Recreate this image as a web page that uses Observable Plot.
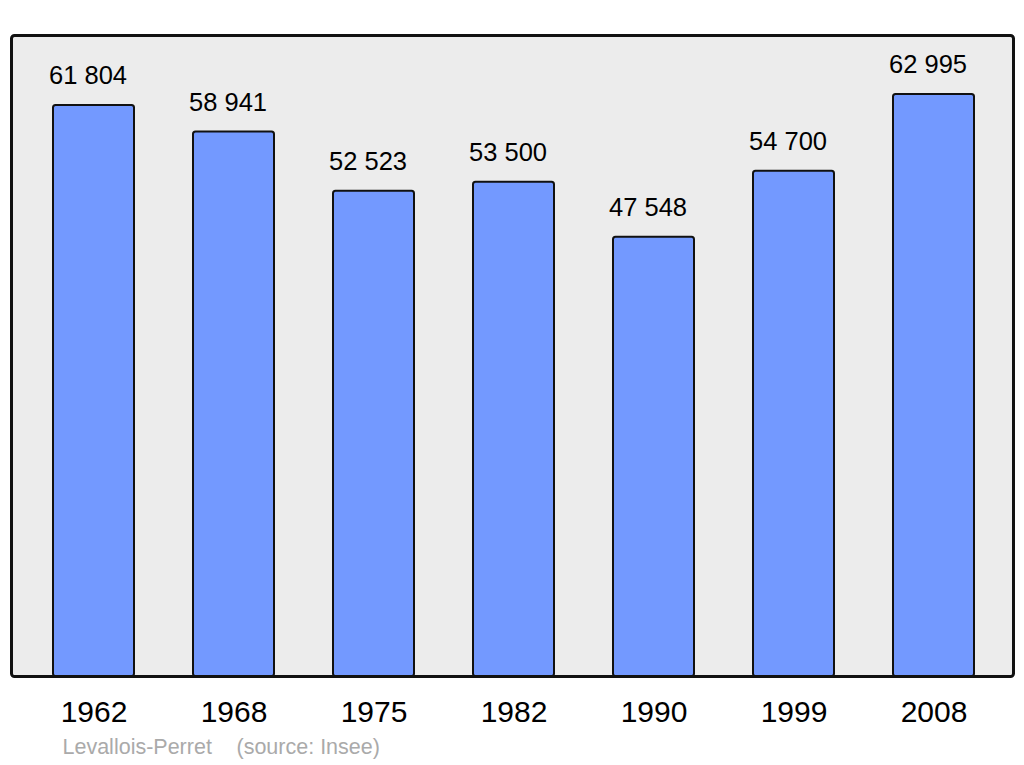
<!DOCTYPE html>
<html>
<head>
<meta charset="utf-8">
<script src="https://cdn.jsdelivr.net/npm/d3@7"></script>
<script src="https://cdn.jsdelivr.net/npm/@observablehq/plot@0.6"></script>
<style>
  html, body { margin: 0; padding: 0; background: #ffffff; }
  #chart svg { display: block; }
</style>
</head>
<body>
<div id="chart"></div>
<script>
const years = ["1962", "1968", "1975", "1982", "1990", "1999", "2008"];
const population = [61804, 58941, 52523, 53500, 47548, 54700, 62995];
const townName = "Levallois-Perret";
const sourceNote = "(source: Insee)";

const data = years.map((y, i) => ({year: y, value: population[i]}));
const fmt = d3.formatLocale({thousands: " ", grouping: [3], decimal: ",", currency: ["", ""]}).format(",d");
const font = "'Liberation Sans', Arial, Helvetica, sans-serif";

const chart = Plot.plot({
  width: 1024,
  height: 765,
  marginTop: 35,
  marginBottom: 89,
  marginLeft: 11,
  marginRight: 11,
  style: {fontFamily: font, background: "#ffffff", overflow: "visible"},
  x: {domain: years, range: [12, 1016], paddingInner: 0.42, paddingOuter: 0.29, label: null},
  y: {domain: [0, 69380], axis: null},
  marks: [
    Plot.frame({fill: "#ececec", stroke: "none", rx: 3}),
    Plot.barY(data, {x: "year", y: "value", fill: "#7399ff", stroke: "#111111", strokeWidth: 2, rx: 2.5}),
    Plot.frame({fill: "none", stroke: "#111111", strokeWidth: 3, rx: 3}),
    Plot.text(data, {x: "year", y: "value", text: d => fmt(d.value), dx: -6, dy: -29.5, lineAnchor: "middle", fontSize: 25.5, fill: "#000000"}),
    Plot.axisX({tickSize: 0, tickPadding: 24, fontSize: 30, color: "#000000", label: null}),
    Plot.text([townName], {frameAnchor: "bottom-left", dx: 51, dy: 71, text: d => d, textAnchor: "start", lineAnchor: "middle", fontSize: 21.5, fill: "#aaaaaa"}),
    Plot.text([sourceNote], {frameAnchor: "bottom-left", dx: 225, dy: 71, text: d => d, textAnchor: "start", lineAnchor: "middle", fontSize: 21.5, fill: "#aaaaaa"})
  ]
});
document.getElementById("chart").appendChild(chart);
</script>
</body>
</html>
